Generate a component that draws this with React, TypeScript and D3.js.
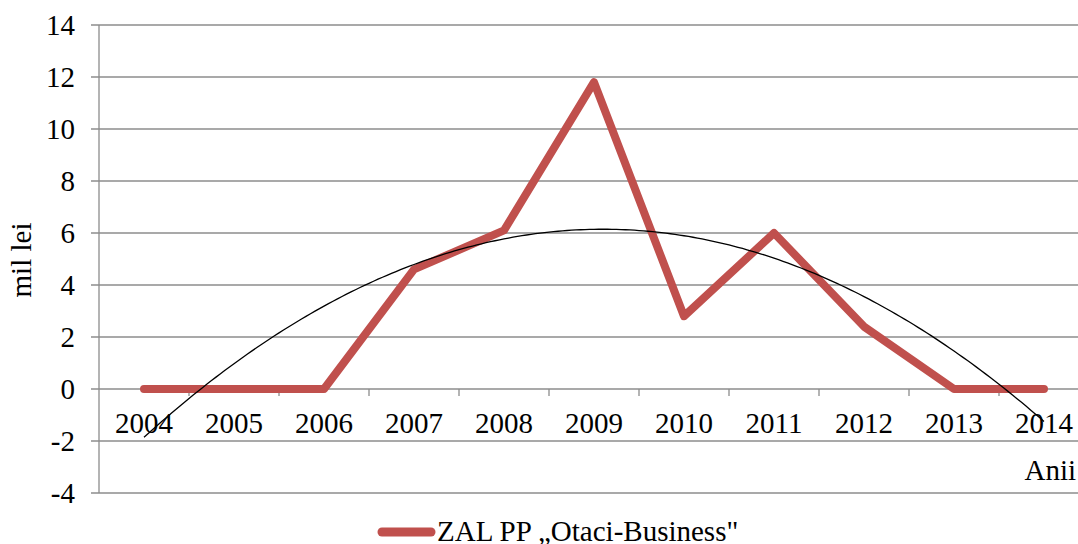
import React from "react";
import * as d3 from "d3";

const categories = ["2004", "2005", "2006", "2007", "2008", "2009", "2010", "2011", "2012", "2013", "2014"];
const values = [0, 0, 0, 4.6, 6.1, 11.8, 2.8, 6.0, 2.4, 0, 0];
const yTicks = [-4, -2, 0, 2, 4, 6, 8, 10, 12, 14];
const seriesName = "ZAL PP \u201EOtaci-Business\"";
const yTitle = "mil lei";
const xTitle = "Anii";

// polynomial (order 2) least-squares trendline
function polyFit(ys: number[]) {
  const n = ys.length;
  const xs = ys.map((_, i) => i + 1);
  const mean = d3.mean(xs)!;
  const t = xs.map((x) => x - mean);
  const St2 = d3.sum(t, (v) => v * v);
  const St4 = d3.sum(t, (v) => v ** 4);
  const Sy = d3.sum(ys);
  const Sty = d3.sum(t, (v, i) => v * ys[i]);
  const St2y = d3.sum(t, (v, i) => v * v * ys[i]);
  const b = Sty / St2;
  const c = (St2y - (St2 * Sy) / n) / (St4 - (St2 * St2) / n);
  const a = (Sy - c * St2) / n;
  return (x: number) => a + b * (x - mean) + c * (x - mean) ** 2;
}

export default function App() {
  const W = 1078;
  const H = 544;
  const left = 99;
  const band = 90;
  const right = left + band * categories.length;
  const top = 25;
  const bottom = 493;

  const x = d3.scaleBand<string>().domain(categories).range([left, right]);
  const y = d3.scaleLinear().domain([-4, 14]).range([bottom, top]);
  const cx = (i: number) => x(categories[i])! + x.bandwidth() / 2;

  const line = d3
    .line<number>()
    .x((_, i) => cx(i))
    .y((d) => y(d));

  const fit = polyFit(values);
  const xi = d3.scaleLinear().domain([1, categories.length]).range([cx(0), cx(categories.length - 1)]);
  const trendPts = d3.range(0, 201).map((k) => 1 + (k / 200) * (categories.length - 1));
  const trendLine = d3
    .line<number>()
    .x((v) => xi(v))
    .y((v) => y(fit(v)));

  const font = '"Liberation Serif"';
  const grid = "#8c8c8c";
  const red = "#C0504D";
  const fs = 29;

  return (
    <svg
      width={W}
      height={H}
      style={{ position: "absolute", left: 0, top: 0, display: "block", fontFamily: font }}
    >
      <rect width={W} height={H} fill="#fff" />
      {yTicks.map((t) => (
        <g key={t}>
          <line x1={left - 8} x2={right} y1={y(t)} y2={y(t)} stroke={grid} strokeWidth={1.3} />
          <text x={left - 24} y={y(t)} dy="0.34em" textAnchor="end" fontSize={fs} fill="#000">
            {t}
          </text>
        </g>
      ))}
      <line x1={left} x2={left} y1={top} y2={bottom} stroke={grid} strokeWidth={1.3} />
      {categories.map((c) => (
        <line
          key={"tk" + c}
          x1={x(c)! + band}
          x2={x(c)! + band}
          y1={y(0)}
          y2={y(0) + 7}
          stroke={grid}
          strokeWidth={1.3}
        />
      ))}
      {categories.map((c, i) => (
        <text key={"lb" + c} x={cx(i)} y={y(0) + 44} textAnchor="middle" fontSize={fs} fill="#000">
          {c}
        </text>
      ))}
      <path
        d={line(values)!}
        fill="none"
        stroke={red}
        strokeWidth={8}
        strokeLinejoin="round"
        strokeLinecap="round"
      />
      <path d={trendLine(trendPts)!} fill="none" stroke="#000" strokeWidth={1.3} />
      <text
        transform={`translate(${31},${260}) rotate(-90)`}
        textAnchor="middle"
        fontSize={fs}
        fill="#000"
      >
        {yTitle}
      </text>
      <text x={1076} y={480} textAnchor="end" fontSize={fs} fill="#000">
        {xTitle}
      </text>
      <line x1={382} x2={431} y1={532} y2={532} stroke={red} strokeWidth={9} strokeLinecap="round" />
      <text x={437} y={541} fontSize={fs} fill="#000">
        {seriesName}
      </text>
    </svg>
  );
}
